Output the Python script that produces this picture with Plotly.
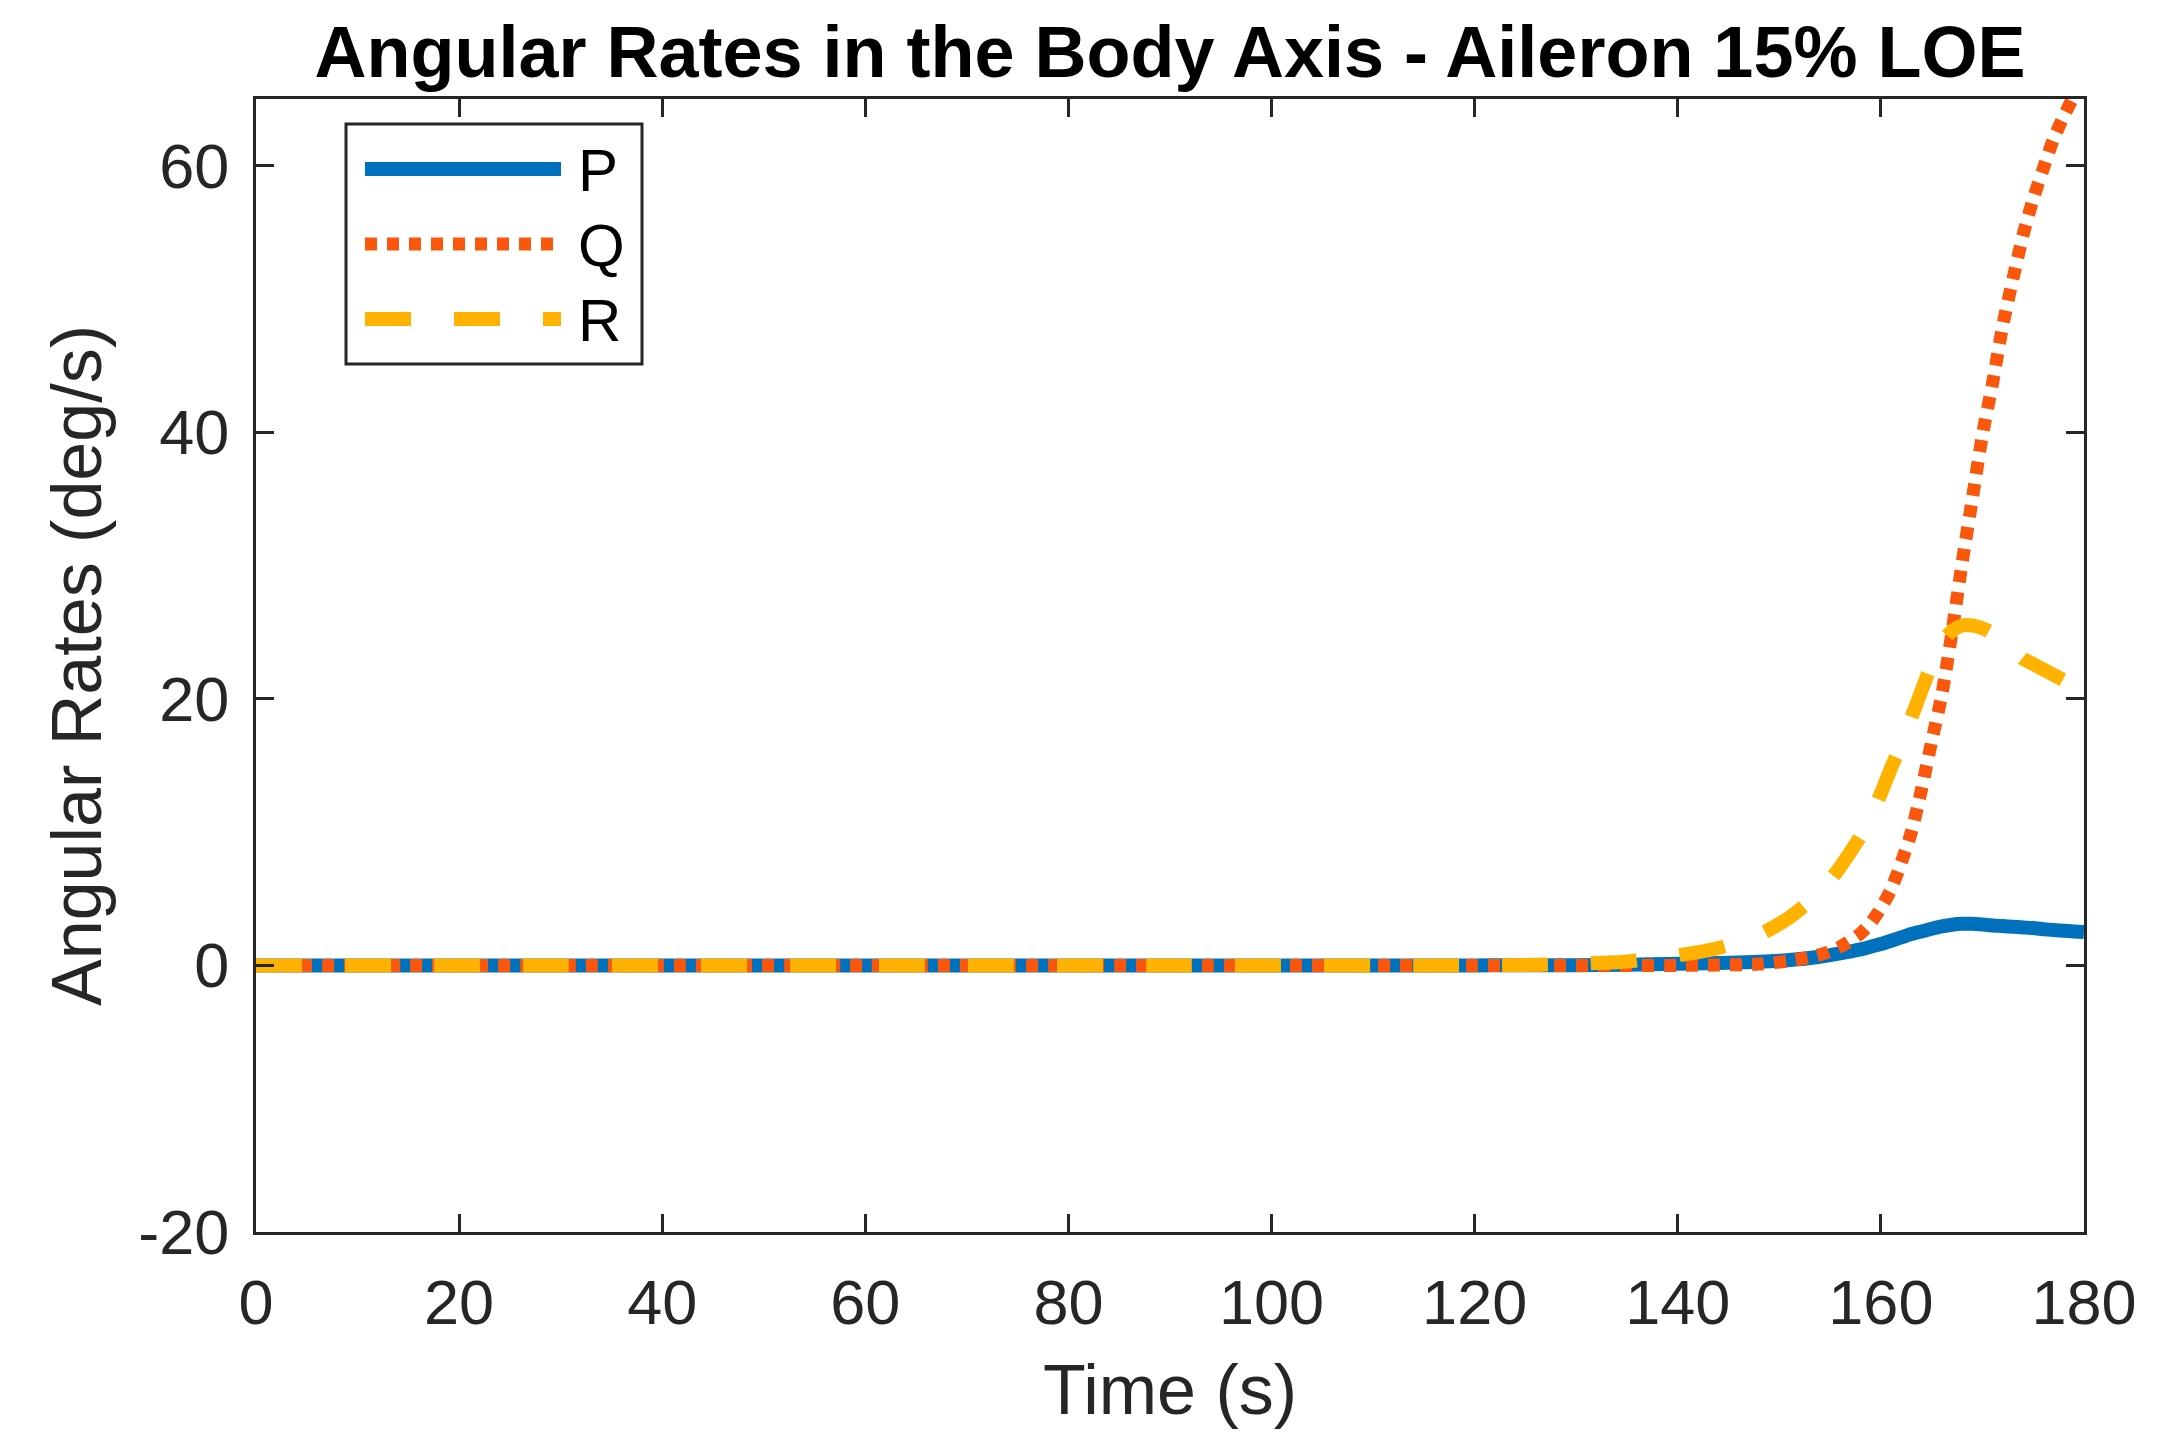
import plotly.graph_objects as go

# ---- data ----
time_s = [0, 30, 60, 90, 120, 125, 130, 135, 140, 144, 148, 151, 154, 156, 158, 159,
          160, 161, 162, 163, 164, 165, 166, 167, 168, 169, 170, 171, 172, 173, 174,
          175, 176, 177, 178, 179, 180]
P = [0, 0, 0, 0, 0, 0.01, 0.02, 0.05, 0.12, 0.18, 0.27, 0.4, 0.65, 0.9, 1.2, 1.4,
     1.6, 1.85, 2.1, 2.35, 2.55, 2.75, 2.92, 3.05, 3.12, 3.12, 3.07, 3.0, 2.95, 2.9, 2.85,
     2.8, 2.72, 2.65, 2.6, 2.55, 2.5]
Q = [0, 0, 0, 0, 0, 0, 0, 0, 0, 0.03, 0.1, 0.35, 0.8, 1.4, 2.4, 3.2,
     4.3, 5.7, 7.7, 10.0, 13.2, 16.8, 20.3, 25.0, 30.2, 35.0, 39.8, 43.7, 48.0, 51.5, 54.8,
     57.5, 59.8, 62.0, 63.7, 65.2, 66.5]
R = [0, 0, 0, 0, 0, 0.03, 0.12, 0.3, 0.75, 1.3, 2.3, 3.6, 5.5, 7.4, 9.7, 11.2,
     12.9, 14.8, 16.6, 18.6, 20.6, 22.6, 24.2, 25.1, 25.5, 25.5, 25.3, 24.9, 24.3, 23.7, 23.0,
     22.6, 22.2, 21.8, 21.4, 21.0, 20.6]
series_names = ["P", "Q", "R"]
x_ticks = [0, 20, 40, 60, 80, 100, 120, 140, 160, 180]
y_ticks = [-20, 0, 20, 40, 60]
y_tick_labels = ["-20", "0", "20", "40", "60"]

# ---- style ----
W, H = 2164, 1448
BODY = 8  # default page margin around the plot div
L, RGT, T, B = 256, 2084, 99, 1232  # plot area in page pixels
AX = "#262626"
FONT = "Liberation Sans, Arial, sans-serif"
colors = ["#0072BD", "#FA560C", "#FFB300"]
widths = [14, 13, 14]
dashes = ["solid", "12px,10px", "46px,43px"]


def px_x(px):
    return (px - L) / (RGT - L)


def px_y(py):
    return (B - py) / (B - T)


fig = go.Figure()
for name, ys, c, w, d in zip(series_names, [P, Q, R], colors, widths, dashes):
    fig.add_trace(go.Scatter(x=time_s, y=ys, mode="lines", name=name,
                             line=dict(color=c, width=w, dash=d, shape="spline", smoothing=0.7),
                             showlegend=False))

axis_common = dict(
    showline=True, linewidth=3, linecolor=AX, mirror="ticks",
    ticks="inside", ticklen=18, tickwidth=3, tickcolor=AX,
    showgrid=False, zeroline=False,
    tickfont=dict(family=FONT, size=63, color=AX),
)

FW, FH = W - 2 * BODY, H - 2 * BODY
fig.update_layout(
    width=FW, height=FH,
    margin=dict(l=L - BODY, r=W - BODY - RGT, t=T - BODY, b=H - BODY - B),
    paper_bgcolor="white", plot_bgcolor="white",
    title=dict(text="<b>Angular Rates in the Body Axis - Aileron 15% LOE</b>",
               font=dict(family=FONT, size=72, color="black"),
               x=0.5, xref="paper", xanchor="center",
               y=1 - (52 - BODY) / FH, yref="container", yanchor="middle"),
    xaxis=dict(range=[0, 180], tickvals=x_ticks, ticklabelstandoff=13,
               title=dict(text="Time (s)", font=dict(family=FONT, size=70, color=AX), standoff=30),
               **axis_common),
    yaxis=dict(range=[-20, 65], tickvals=y_ticks, ticktext=y_tick_labels, ticklabelstandoff=11,
               title=dict(text="Angular Rates (deg/s)", font=dict(family=FONT, size=70, color=AX), standoff=14),
               **axis_common),
)

# ---- custom legend box (MATLAB style) ----
box = (346, 124, 642, 364)
fig.add_shape(type="rect", xref="paper", yref="paper",
              x0=px_x(box[0]), x1=px_x(box[2]), y0=px_y(box[3]), y1=px_y(box[1]),
              line=dict(color=AX, width=3), fillcolor="white", layer="above")
rows_y = [169, 244, 319]
for name, c, w, d, ry in zip(series_names, colors, widths, dashes, rows_y):
    fig.add_shape(type="line", xref="paper", yref="paper",
                  x0=px_x(365), x1=px_x(561), y0=px_y(ry), y1=px_y(ry),
                  line=dict(color=c, width=w, dash=d), layer="above")
    fig.add_annotation(xref="paper", yref="paper", x=px_x(576), y=px_y(ry + 1),
                       text=name, showarrow=False, xanchor="left", yanchor="middle",
                       font=dict(family=FONT, size=60, color="black"))

fig.write_html("out.html")
